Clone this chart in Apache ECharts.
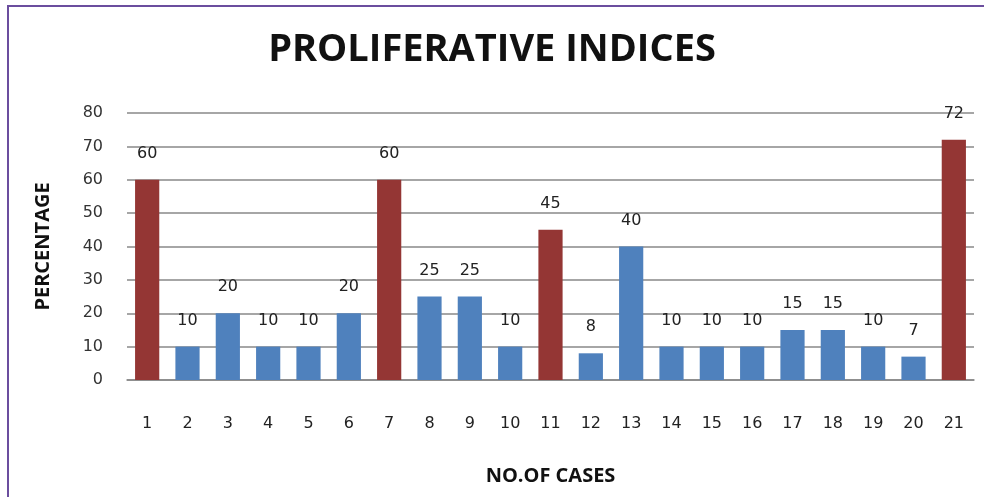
<!DOCTYPE html>
<html>
<head>
<meta charset="utf-8">
<script src="https://cdn.jsdelivr.net/npm/echarts@6/dist/echarts.min.js"></script>
<style>
  html, body { margin: 0; padding: 0; background: #fff; }
  #box { width: 984px; height: 497px; }
</style>
</head>
<body>
<div id="box"></div>
<script>
// 数据
var cases = ['1','2','3','4','5','6','7','8','9','10','11','12','13','14','15','16','17','18','19','20','21']
var percentage = [60, 10, 20, 10, 10, 20, 60, 25, 25, 10, 45, 8, 40, 10, 10, 10, 15, 15, 10, 7, 72]
// 红色柱子
var redCases = ['1', '7', '11', '21']
var yTicks = [0, 10, 20, 30, 40, 50, 60, 70, 80]

var blue = '#4F81BD'
var red = '#943634'

var chart = echarts.init(document.getElementById('box'))

var barData = percentage.map(function (v, i) {
    return {
        value: v,
        itemStyle: { color: redCases.indexOf(cases[i]) >= 0 ? red : blue }
    }
})

var option = {
    animation: false,
    backgroundColor: '#fff',
    title: {
        text: 'PROLIFERATIVE INDICES',
        left: 'center',
        top: 26,
        textStyle: {
            fontFamily: 'Open Sans',
            fontWeight: 'bold',
            fontSize: 38,
            color: '#111'
        }
    },
    graphic: [{
        type: 'rect',
        shape: { x: 8, y: 6, width: 1000, height: 520 },
        style: { fill: 'none', stroke: '#6B4E9E', lineWidth: 2 },
        z: 100
    }],
    grid: {
        left: 127,
        right: 10,
        top: 113,
        bottom: 117
    },
    xAxis: {
        type: 'category',
        data: cases,
        name: 'NO.OF CASES',
        nameLocation: 'middle',
        nameGap: 86,
        nameTextStyle: {
            fontFamily: 'Open Sans',
            fontWeight: 'bold',
            fontSize: 20,
            color: '#111'
        },
        axisLine: { lineStyle: { color: '#888', width: 1.5 } },
        axisTick: { show: false },
        axisLabel: {
            margin: 36,
            fontFamily: 'DejaVu Sans',
            fontSize: 16,
            color: '#222'
        }
    },
    yAxis: {
        type: 'value',
        min: yTicks[0],
        max: yTicks[yTicks.length - 1],
        interval: 10,
        name: 'PERCENTAGE',
        nameLocation: 'middle',
        nameGap: 74,
        nameRotate: 90,
        nameTextStyle: {
            fontFamily: 'Open Sans',
            fontWeight: 'bold',
            fontSize: 20,
            color: '#111'
        },
        axisLine: { show: false },
        axisTick: { show: false },
        axisLabel: {
            margin: 24,
            fontFamily: 'DejaVu Sans',
            fontSize: 16,
            color: '#333'
        },
        splitLine: { lineStyle: { color: '#888', width: 1.5 } }
    },
    series: [{
        type: 'bar',
        data: barData,
        barWidth: '60%',
        label: {
            show: true,
            position: 'top',
            distance: 18,
            fontFamily: 'DejaVu Sans',
            fontSize: 16,
            color: '#222'
        }
    }]
}

chart.setOption(option)
</script>
</body>
</html>
